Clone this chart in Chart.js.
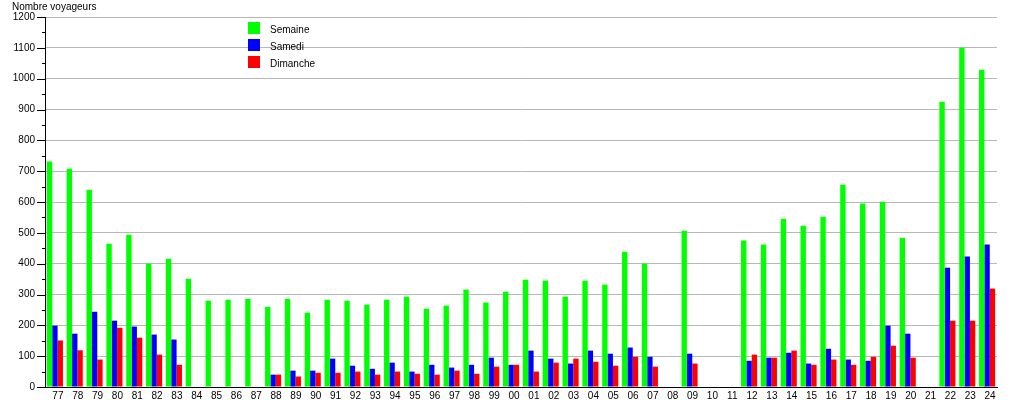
<!DOCTYPE html>
<html>
<head>
<meta charset="utf-8">
<script src="https://cdn.jsdelivr.net/npm/chart.js@4.4.0/dist/chart.umd.min.js"></script>
<style>
  body { margin: 0; background: #fff; }
  #wrap { width: 1015px; height: 400px; }
</style>
</head>
<body>
<div id="wrap"><canvas id="chart" width="1015" height="400"></canvas></div>
<script>
// Years (two digits) on the x axis
var years = ['77','78','79','80','81','82','83','84','85','86','87','88','89','90','91','92',
  '93','94','95','96','97','98','99','00','01','02','03','04','05','06','07','08',
  '09','10','11','12','13','14','15','16','17','18','19','20','21','22','23','24'];

// Nombre voyageurs
var semaine = [731,708,640,465,494,400,416,351,280,283,286,
  260,286,241,283,280,267,283,293,254,264,316,274,
  309,348,345,293,345,332,439,400,null,507,
  null,null,475,462,546,523,552,656,595,601,
  484,null,925,1100,1029];
var samedi = [199,173,244,215,196,170,154,null,null,null,null,
  40,53,53,92,69,59,79,50,72,63,72,95,
  72,118,92,76,118,108,128,98,null,108,
  null,null,85,95,111,76,124,89,85,199,
  173,null,387,423,462];
var dimanche = [151,119,89,192,160,105,72,null,null,null,null,
  40,34,46,46,50,40,50,43,40,53,43,66,
  72,50,79,92,82,69,98,66,null,76,
  null,null,105,95,118,72,89,72,98,134,
  95,null,215,215,319];

var FONT = '"Liberation Sans", Arial, sans-serif';

// y tick marks (long at 100s, short at 50s), axis title and legend box
var extras = {
  id: 'extras',
  afterDraw: function(chart) {
    var ctx = chart.ctx, y = chart.scales.y;
    var x0 = y.right;
    ctx.save();
    ctx.strokeStyle = '#000';
    ctx.lineWidth = 1;
    for (var v = 0; v <= 1200; v += 50) {
      var py = Math.round(y.getPixelForValue(v)) + 0.5;
      var len = v % 100 === 0 ? 8 : 3;
      ctx.beginPath();
      ctx.moveTo(x0 - len, py);
      ctx.lineTo(x0, py);
      ctx.stroke();
    }
    ctx.fillStyle = '#000';
    ctx.font = '10px ' + FONT;
    ctx.textAlign = 'left';
    ctx.textBaseline = 'alphabetic';
    ctx.fillText('Nombre voyageurs', 12, 10);

    ctx.textBaseline = 'middle';
    chart.data.datasets.forEach(function(ds, i) {
      ctx.fillStyle = ds.backgroundColor;
      ctx.fillRect(248, 22 + 17 * i, 12, 12);
      ctx.fillStyle = '#000';
      ctx.fillText(ds.label, 270, 30 + 17 * i);
    });
    ctx.restore();
  }
};

new Chart(document.getElementById('chart'), {
  type: 'bar',
  data: {
    labels: years,
    datasets: [
      {label: 'Semaine', data: semaine, backgroundColor: '#00ff00'},
      {label: 'Samedi', data: samedi, backgroundColor: '#0000ff'},
      {label: 'Dimanche', data: dimanche, backgroundColor: '#ff0000'}
    ]
  },
  options: {
    responsive: false,
    animation: false,
    layout: {padding: {top: 17, right: 18, left: 0, bottom: 0}},
    datasets: {bar: {categoryPercentage: 0.81, barPercentage: 1, borderWidth: 0}},
    plugins: {legend: {display: false}, tooltip: {enabled: false}},
    scales: {
      x: {
        grid: {display: false, drawTicks: false},
        border: {display: true, color: '#000', width: 1},
        ticks: {color: '#000', font: {size: 10, family: FONT}, padding: 3, labelOffset: 3,
                autoSkip: false, maxRotation: 0},
        afterFit: function(s) { s.height = 13; s.paddingLeft = 0; s.paddingRight = 0; }
      },
      y: {
        min: 0, max: 1200,
        grid: {
          color: function(c) { return c.tick && c.tick.value === 0 ? 'rgba(0,0,0,0)' : '#b8b8b8'; },
          drawTicks: false
        },
        border: {display: true, color: '#000', width: 1},
        ticks: {stepSize: 100, color: '#000', font: {size: 10, family: FONT}, padding: 10,
                callback: function(v) { return String(v); }},
        afterFit: function(s) { s.width = 45; s.paddingTop = 0; s.paddingBottom = 0; }
      }
    }
  },
  plugins: [extras]
});
</script>
</body>
</html>
